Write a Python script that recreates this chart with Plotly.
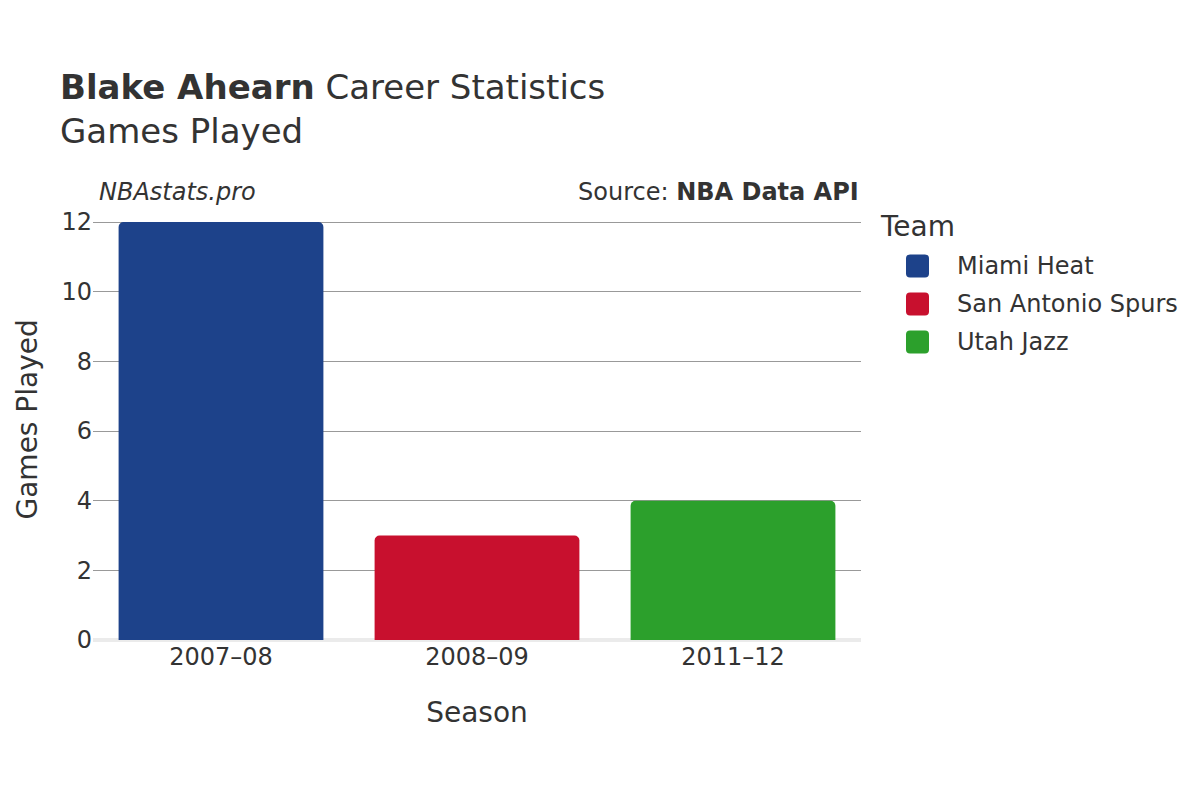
import plotly.graph_objects as go

seasons = ["2007–08", "2008–09", "2011–12"]
teams = ["Miami Heat", "San Antonio Spurs", "Utah Jazz"]
games = [12, 3, 4]
colors = ["#1d428a", "#c8102e", "#2ca02c"]

W, H = 1200, 800
L, T, PW, PH = 85, 213, 768, 419
R, B = W - L - PW, H - T - PH

def px2paper(x, y):
    return (x - L) / PW, 1 - (y - T) / PH

font_family = "DejaVu Sans"
fig = go.Figure()
for s, t, g, c in zip(seasons, teams, games, colors):
    fig.add_trace(go.Bar(
        x=[s], y=[g], name=t, showlegend=False,
        marker=dict(color=c, cornerradius=5, line=dict(width=0)),
        width=0.8,
    ))

annotations = []
shapes = []
nx, ny = px2paper(89, 184)
annotations.append(dict(text="<i>NBAstats.pro</i>", x=nx, y=ny, xref="paper", yref="paper",
                        xanchor="left", yanchor="middle", showarrow=False, font=dict(size=24)))
sx, sy = px2paper(853, 184)
annotations.append(dict(text="Source: <b>NBA Data API</b>", x=sx, y=sy, xref="paper", yref="paper",
                        xanchor="right", yanchor="middle", showarrow=False, font=dict(size=24)))

# y-axis title
yx, yy = px2paper(1, 412)
annotations.append(dict(text="Games Played", x=yx, y=yy, xref="paper", yref="paper",
                        xanchor="left", yanchor="middle", textangle=-90, showarrow=False,
                        font=dict(size=28), borderpad=0))

# custom legend (large rounded swatches)
tx, ty = px2paper(870, 219)
annotations.append(dict(text="Team", x=tx, y=ty, xref="paper", yref="paper",
                        xanchor="left", yanchor="middle", showarrow=False, font=dict(size=28)))

def rounded_rect(x0, y0, x1, y1, r):
    def P(x, y):
        px, py = px2paper(x, y)
        return f"{px:.5f},{py:.5f}"
    return (f"M {P(x0 + r, y0)} L {P(x1 - r, y0)} Q {P(x1, y0)} {P(x1, y0 + r)} "
            f"L {P(x1, y1 - r)} Q {P(x1, y1)} {P(x1 - r, y1)} L {P(x0 + r, y1)} "
            f"Q {P(x0, y1)} {P(x0, y1 - r)} L {P(x0, y0 + r)} Q {P(x0, y0)} {P(x0 + r, y0)} Z")

for i, (t, c) in enumerate(zip(teams, colors)):
    cy = 258 + 38 * i
    shapes.append(dict(type="path", xref="paper", yref="paper",
                       path=rounded_rect(898, cy - 11.5, 921, cy + 11.5, 4),
                       fillcolor=c, line=dict(width=0)))
    lx, ly = px2paper(947, cy)
    annotations.append(dict(text=t, x=lx, y=ly, xref="paper", yref="paper",
                            xanchor="left", yanchor="middle", showarrow=False, font=dict(size=24)))

fig.update_layout(
    width=W, height=H,
    barmode="overlay",
    showlegend=False,
    paper_bgcolor="white", plot_bgcolor="white",
    font=dict(family=font_family, color="#333333", size=24),
    margin=dict(l=L, r=R, t=T, b=B, autoexpand=False),
    title=dict(
        text="<b>Blake Ahearn</b> Career Statistics<br>Games Played",
        x=52 / W, xanchor="left", y=1 - 91 / H, yanchor="top",
        font=dict(size=34, family=font_family, color="#333333"),
    ),
    xaxis=dict(
        categoryorder="array", categoryarray=seasons,
        title=dict(text="Season", font=dict(size=28), standoff=32),
        tickfont=dict(size=24), showgrid=False, ticks="", showline=False,
    ),
    yaxis=dict(
        range=[0, 12.03], tickvals=[0, 2, 4, 6, 8, 10, 12],
        tickfont=dict(size=24), showgrid=True, gridcolor="#999999", gridwidth=1,
        zeroline=True, zerolinecolor="#ebebeb", zerolinewidth=4, ticks="",
    ),
    annotations=annotations,
    shapes=shapes,
)

fig.write_html("out.html")
